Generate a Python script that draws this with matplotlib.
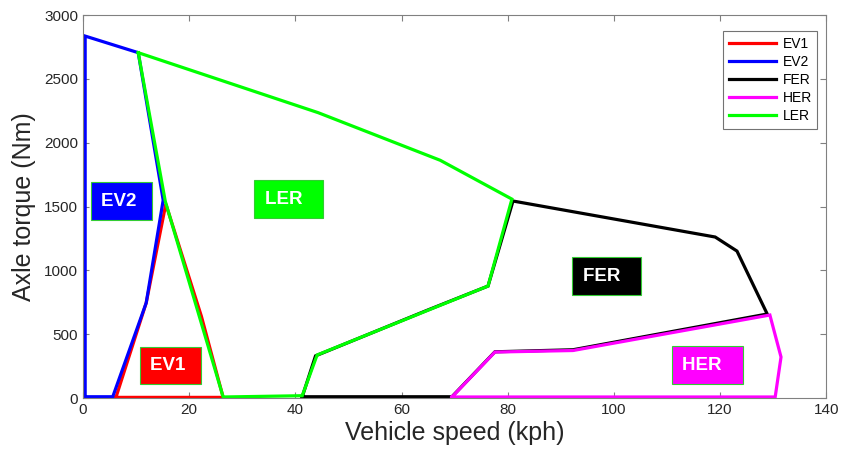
import matplotlib
matplotlib.use("Agg")
import matplotlib.pyplot as plt

plt.rcParams["font.family"] = ["Liberation Sans", "DejaVu Sans"]

# ── region boundaries (speed kph, torque Nm) ────────────────────────────────
ev1_speed = [6.2, 11.9, 15.6, 22.3, 26.4, 6.2]
ev1_torque = [5, 745, 1520, 640, 5, 5]

ev2_speed = [0.4, 0.4, 10.4, 15.1, 11.9, 5.6, 0.4]
ev2_torque = [10, 2835, 2705, 1550, 745, 10, 10]

fer_speed = [41.3, 43.8, 65.0, 76.3, 81.0, 119.1, 123.2, 128.9, 92.3, 77.6, 69.5, 41.3]
fer_torque = [10, 330, 690, 877, 1543, 1261, 1151, 658, 378, 362, 10, 10]

her_speed = [69.5, 77.6, 92.3, 129.4, 131.5, 130.4, 69.5]
her_torque = [8, 360, 372, 650, 321, 8, 8]

ler_speed = [10.4, 44.3, 67.3, 80.8, 76.3, 44.1, 41.3, 26.4, 15.5, 10.4]
ler_torque = [2705, 2235, 1862, 1558, 877, 337, 18, 8, 1540, 2705]

series = [
    ("EV1", ev1_speed, ev1_torque, "#ff0000"),
    ("EV2", ev2_speed, ev2_torque, "#0000ff"),
    ("FER", fer_speed, fer_torque, "#000000"),
    ("HER", her_speed, her_torque, "#ff00ff"),
    ("LER", ler_speed, ler_torque, "#00ff00"),
]

# region labels: text, x, y, box colour
labels = [
    ("EV2 ", 3.4, 1543, "#0000ff"),
    ("LER  ", 34.2, 1558, "#00ff00"),
    ("FER  ", 94.1, 955, "#000000"),
    ("EV1 ", 12.6, 254, "#ff0000"),
    ("HER  ", 112.9, 258, "#ff00ff"),
]

fig = plt.figure(figsize=(8.43, 4.62), dpi=100)
ax = fig.add_axes([0.0985, 0.1385, 0.8815, 0.829])

for name, xs, ys, col in series:
    ax.plot(xs, ys, color=col, lw=2.3, label=name, solid_joinstyle="miter")

for txt, x, y, col in labels:
    ax.text(x, y, txt, color="white", fontsize=13.5, fontweight="bold",
            ha="left", va="center",
            bbox=dict(boxstyle="square,pad=0.55", fc=col, ec="#33cc33", lw=0.8))

ax.set_xlim(0, 140)
ax.set_ylim(0, 3000)
ax.set_xticks(range(0, 141, 20))
ax.set_yticks(range(0, 3001, 500))
ax.tick_params(direction="in", top=True, right=True, length=4,
               labelsize=11, colors="0.5", labelcolor="#262626")
for s in ax.spines.values():
    s.set_color("0.5")
    s.set_linewidth(0.8)

ax.set_xlabel("Vehicle speed (kph)", fontsize=18, color="#262626", labelpad=3)
ax.set_ylabel("Axle torque (Nm)", fontsize=18, color="#262626", labelpad=6)

leg = ax.legend(loc="upper right", bbox_to_anchor=(0.988, 0.958),
                borderaxespad=0, fontsize=10, handlelength=3.4,
                fancybox=False, edgecolor="0.45", framealpha=1,
                labelspacing=0.3, handletextpad=0.45, borderpad=0.4)
leg.get_frame().set_linewidth(0.8)

fig.savefig("out.png", dpi=100)
